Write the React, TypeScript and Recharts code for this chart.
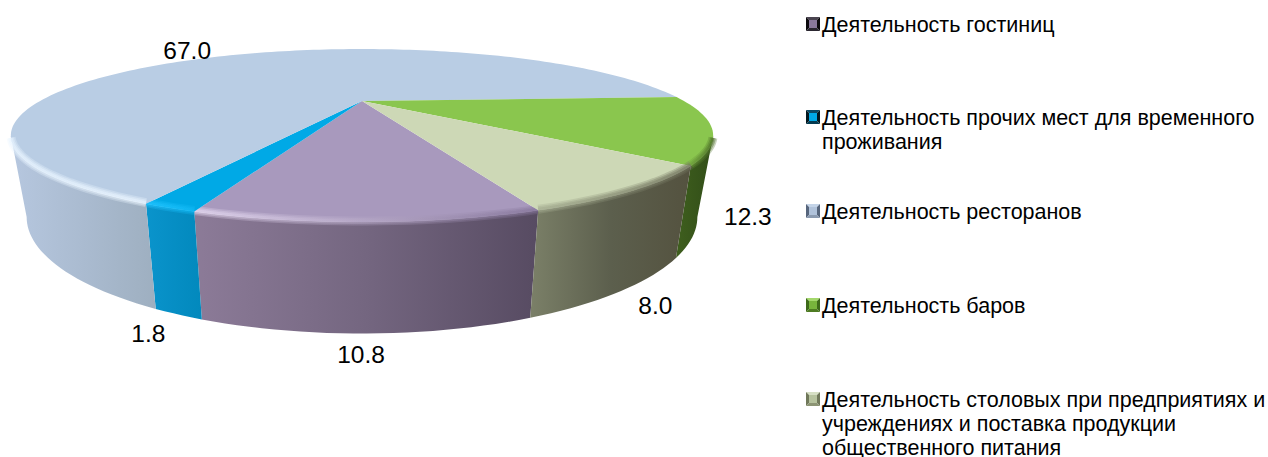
import { PieChart, Pie, Legend } from 'recharts';

const CATEGORIES = [
  'Деятельность гостиниц',
  'Деятельность прочих мест для временного проживания',
  'Деятельность ресторанов',
  'Деятельность баров',
  'Деятельность столовых при предприятиях и учреждениях и поставка продукции общественного питания',
];
const VALUES = [10.8, 1.8, 67.0, 12.3, 8.0];
const VALUE_LABELS = ['10.8', '1.8', '67.0', '12.3', '8.0'];

const TOP_COLORS = ['#a899bd', '#00a9e6', '#b9cde4', '#8ac64e', '#cdd8b6'];
const WALL_COLORS = [
  ['#8c7b98', '#746680', '#574b62'],
  ['#0a94cc', '#068ec4', '#0289bd'],
  ['#b6c7df', '#aabbd0', '#9eafc0'],
  ['#3f5f1e', '#38561b', '#324e18'],
  ['#7b8068', '#5c5f4d', '#54523f'],
];
const RIM_COLORS = [
  ['#e6daf2', '#85759a'],
  ['#22c4ff', '#10b8f4'],
  ['#e8f4ff', '#eaf5ff'],
  ['#6c9c3a', '#4a6c26'],
  ['#a4ac90', '#70725c'],
];
// marker bevel: top, left, right, bottom, centre
const MARKER_COLORS = [
  ['#4a4450', '#0c0a0e', '#0c0a0e', '#2a2630', '#8a789c'],
  ['#0a4a66', '#04181f', '#04181f', '#043a50', '#00a9e6'],
  ['#c4d4e8', '#56657c', '#56657c', '#8a9ab0', '#b0c2da'],
  ['#a4d86c', '#3e6a1a', '#3e6a1a', '#4e7c22', '#78b43c'],
  ['#d6dfc4', '#70785a', '#70785a', '#8c9474', '#b6c29e'],
];
const LABEL_NUDGE = [
  [-6, 133],
  [-21, 126],
  [-40, -5],
  [36, 88],
  [22, 115],
];

const WIDTH = 1268;
const HEIGHT = 457;
const PERSPECTIVE = 0.399;
const TOP_Y = 0.2258;
const BOTTOM_X = 0.955;
const BOTTOM_Y = 0.3043;
const BOTTOM_DROP = 69.5;
const FRONT = -90;
const VISIBLE = 66.5;
const RIM_TRIM = 2;
const RIM_LAYERS = [
  { width: 9, opacity: 0.3 },
  { width: 6, opacity: 0.4 },
  { width: 3, opacity: 0.5 },
];

const data = CATEGORIES.map((name, i) => ({ name, value: VALUES[i] }));

function project(angle: number, cx: number, cy: number, r: number, bottom = false) {
  const a = (angle * Math.PI) / 180;
  const u = Math.cos(a);
  const v = -Math.sin(a);
  const w = 1 - PERSPECTIVE * v;
  if (bottom) {
    return [cx + (r * BOTTOM_X * u) / w, cy + BOTTOM_DROP + (r * BOTTOM_Y * v) / w];
  }
  return [cx + (r * u) / w, cy + (r * TOP_Y * v) / w];
}

function arc(from: number, to: number, cx: number, cy: number, r: number, bottom = false) {
  const steps = Math.max(2, Math.ceil(Math.abs(to - from) / 1.5));
  const pts: string[] = [];
  for (let i = 0; i <= steps; i++) {
    const p = project(from + ((to - from) * i) / steps, cx, cy, r, bottom);
    pts.push(`${p[0].toFixed(2)} ${p[1].toFixed(2)}`);
  }
  return pts;
}

function Slice3D(props: any) {
  const { cx, cy, outerRadius, startAngle, endAngle, name } = props;
  const i = CATEGORIES.indexOf(name);
  const top = arc(startAngle, endAngle, cx, cy, outerRadius);
  const shift = endAngle < -360 ? 360 : 0;
  const lo = Math.max(endAngle + shift, FRONT - VISIBLE);
  const hi = Math.min(startAngle + shift, FRONT + VISIBLE);
  const hasWall = hi > lo;
  // stop the rim short of the silhouette so its square ends don't stick out
  const rimLo = Math.max(lo, FRONT - VISIBLE + RIM_TRIM);
  const rimHi = Math.min(hi, FRONT + VISIBLE - RIM_TRIM);

  return (
    <g>
      <defs>
        <linearGradient id={`wall-${i}`} x1="0" y1="0" x2="1" y2="0">
          <stop offset="0" stopColor={WALL_COLORS[i][0]} />
          <stop offset="0.5" stopColor={WALL_COLORS[i][1]} />
          <stop offset="1" stopColor={WALL_COLORS[i][2]} />
        </linearGradient>
        <linearGradient id={`rim-${i}`} x1="0" y1="0" x2="1" y2="0">
          <stop offset="0" stopColor={RIM_COLORS[i][0]} />
          <stop offset="1" stopColor={RIM_COLORS[i][1]} />
        </linearGradient>
      </defs>
      {hasWall && (
        <path
          d={`M${arc(lo, hi, cx, cy, outerRadius).join('L')}L${arc(hi, lo, cx, cy, outerRadius, true).join('L')}Z`}
          fill={`url(#wall-${i})`}
        />
      )}
      <path d={`M${cx} ${cy}L${top.join('L')}Z`} fill={TOP_COLORS[i]} />
      {hasWall &&
        RIM_LAYERS.map((layer) => (
          <path
            key={layer.width}
            d={`M${arc(rimLo, rimHi, cx, cy, outerRadius).join('L')}`}
            fill="none"
            stroke={`url(#rim-${i})`}
            strokeWidth={layer.width}
            strokeOpacity={layer.opacity}
            transform="translate(0 -1)"
          />
        ))}
    </g>
  );
}

function renderLabel(props: any) {
  const { cx, cy, midAngle, outerRadius, index } = props;
  // recharts hands back the mid angle of the sector
  const p = project(midAngle, cx, cy, outerRadius);
  return (
    <text
      x={p[0] + LABEL_NUDGE[index][0]}
      y={p[1] + LABEL_NUDGE[index][1]}
      textAnchor="middle"
      dominantBaseline="central"
      fontSize={24.5}
      fontFamily="Liberation Sans"
      fill="#000"
    >
      {VALUE_LABELS[index]}
    </text>
  );
}

function Marker({ colors }: { colors: string[] }) {
  return (
    <svg width={14} height={14} style={{ flex: 'none', marginTop: 4, marginRight: 2 }}>
      <polygon points="0,0 14,0 10.5,3.5 3.5,3.5" fill={colors[0]} />
      <polygon points="0,0 3.5,3.5 3.5,10.5 0,14" fill={colors[1]} />
      <polygon points="14,0 14,14 10.5,10.5 10.5,3.5" fill={colors[2]} />
      <polygon points="0,14 3.5,10.5 10.5,10.5 14,14" fill={colors[3]} />
      <rect x={3} y={3} width={8} height={8} fill={colors[4]} />
    </svg>
  );
}

function LegendList() {
  return (
    <div style={{ fontFamily: 'Liberation Sans', fontSize: 21.5, lineHeight: '24px', color: '#000' }}>
      {CATEGORIES.map((name, i) => (
        <div key={name} style={{ display: 'flex', height: 93.75 }}>
          <Marker colors={MARKER_COLORS[i]} />
          <div>{name}</div>
        </div>
      ))}
    </div>
  );
}

export default function App() {
  return (
    <div style={{ position: 'absolute', left: 0, top: 0, width: WIDTH, height: HEIGHT }}>
      <PieChart width={WIDTH} height={HEIGHT} margin={{ top: 0, right: 0, bottom: 0, left: 0 }}>
        <Pie
          data={data}
          dataKey="value"
          nameKey="name"
          cx={362}
          cy={101}
          outerRadius={322}
          startAngle={-70}
          endAngle={-430}
          stroke="none"
          shape={Slice3D}
          label={renderLabel}
          labelLine={false}
          isAnimationActive={false}
        />
        <Legend
          content={<LegendList />}
          width={461}
          wrapperStyle={{ position: 'absolute', left: 806, top: 12.5, width: 461, bottom: 'auto', right: 'auto' }}
        />
      </PieChart>
    </div>
  );
}
